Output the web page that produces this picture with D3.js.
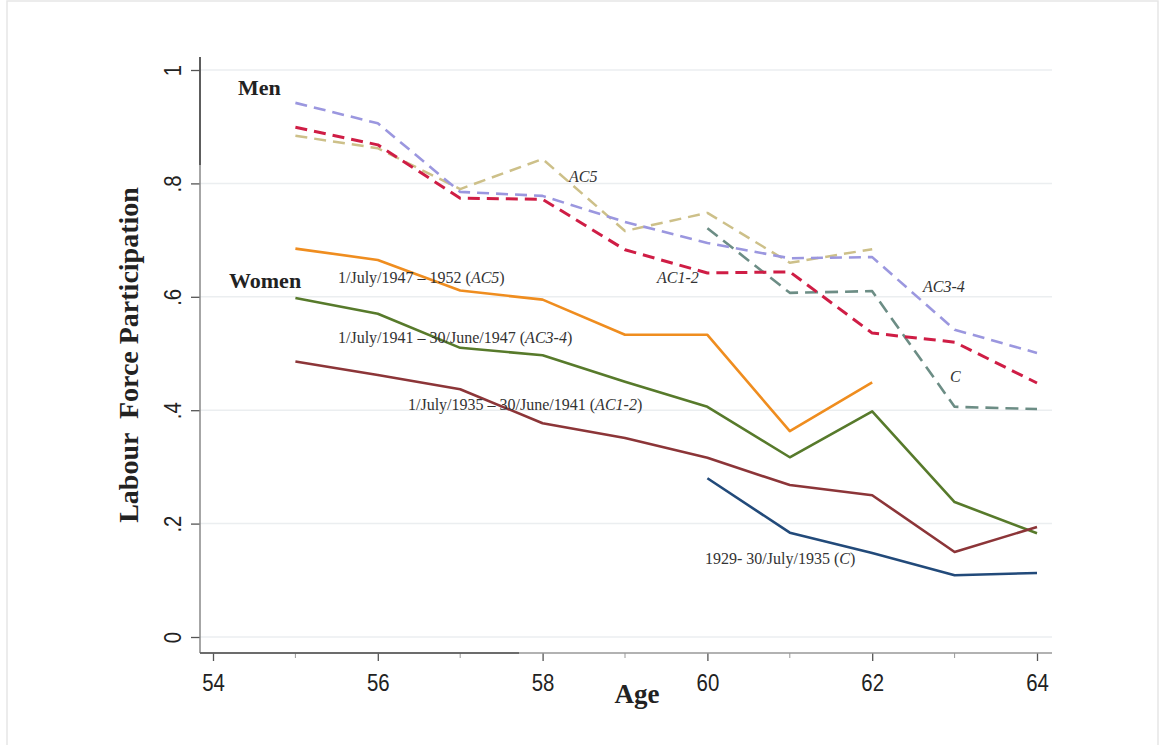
<!DOCTYPE html>
<html><head><meta charset="utf-8">
<script src="https://cdn.jsdelivr.net/npm/d3@7"></script>
<style>body{margin:0;background:#fff}svg{display:block}</style>
</head><body>
<svg id="c" width="1159" height="745"></svg>
<script>
const ages = [55,56,57,58,59,60,61,62,63,64];
const menAC34 = [0.942,0.906,0.785,0.778,0.732,0.695,0.668,0.670,0.542,0.501];
const menAC12 = [0.899,0.868,0.774,0.772,0.683,0.642,0.644,0.536,0.520,0.448];
const menAC5  = [0.884,0.862,0.790,0.843,0.716,0.748,0.660,0.684,null,null];
const menC    = [null,null,null,null,null,0.721,0.607,0.610,0.406,0.402];
const womAC5  = [0.685,0.665,0.611,0.595,0.533,0.533,0.363,0.449,null,null];
const womAC34 = [0.598,0.570,0.510,0.497,0.450,0.406,0.317,0.398,0.238,0.183];
const womAC12 = [0.486,0.462,0.437,0.377,0.351,0.316,0.268,0.250,0.150,0.194];
const womC    = [null,null,null,null,null,0.280,0.184,0.148,0.109,0.113];
const xTicks = [54,56,58,60,62,64];
const xMinor = [55,57,59,61,63];
const yTicks = [0,0.2,0.4,0.6,0.8,1];
const yTickLabels = ["0",".2",".4",".6",".8","1"];

const series = [
  {v: menAC5,  color:"#cdc089", dash:"12,7", w:2.5},
  {v: menC,    color:"#6c8d85", dash:"13,7", w:2.6},
  {v: menAC34, color:"#9b97df", dash:"12,7", w:2.6},
  {v: menAC12, color:"#cf1d45", dash:"12,7", w:3.0},
  {v: womAC5,  color:"#ef8d1f", dash:null, w:2.6},
  {v: womAC34, color:"#577a2b", dash:null, w:2.6},
  {v: womAC12, color:"#8c3538", dash:null, w:2.6},
  {v: womC,    color:"#224a7a", dash:null, w:2.6}
];

const svg = d3.select("#c");
svg.append("rect").attr("x",7).attr("y",1).attr("width",1151).attr("height",760)
  .attr("fill","none").attr("stroke","#e6e6e6").attr("stroke-width",1.5);

const x = d3.scaleLinear().domain([54,64]).range([213,1037]);
const y = d3.scaleLinear().domain([0,1]).range([637,70]);
const axL = 200, axB = 653, axR = 1052, axT = 57;
const sans = "Liberation Sans, Arial, sans-serif";
const serif = "Liberation Serif, Times New Roman, serif";

svg.append("g").selectAll("line").data(yTicks).join("line")
  .attr("x1",axL).attr("x2",axR).attr("y1",d=>y(d)).attr("y2",d=>y(d))
  .attr("stroke","#ebeef0").attr("stroke-width",1.5);

// Y axis
const yAxis = d3.axisLeft(y).tickValues(yTicks).tickSize(9).tickFormat((d,i)=>yTickLabels[i]);
const gy = svg.append("g").attr("transform",`translate(${axL},0)`).call(yAxis);
gy.select(".domain").remove();
gy.selectAll(".tick line").attr("stroke","#555").attr("stroke-width",1.3);
gy.selectAll(".tick text").attr("font-family",sans)
  .attr("font-size",24).attr("fill","#222")
  .attr("x",0).attr("y",0).attr("dy","0.36em").attr("text-anchor","middle")
  .attr("transform","translate(-28,0) rotate(-90) scale(0.85,1)");
svg.append("line").attr("x1",axL).attr("x2",axL).attr("y1",axT).attr("y2",axB)
  .attr("stroke","#888").attr("stroke-width",1.5);
svg.append("line").attr("x1",axL).attr("x2",axL).attr("y1",axT).attr("y2",165)
  .attr("stroke","#444").attr("stroke-width",1.5);

// X axis
const xAxis = d3.axisBottom(x).tickValues(xTicks).tickSize(8).tickFormat(d3.format("d"));
const gx = svg.append("g").attr("transform",`translate(0,${axB})`).call(xAxis);
gx.select(".domain").remove();
gx.selectAll(".tick line").attr("stroke","#555").attr("stroke-width",1.3);
gx.selectAll(".tick text").attr("font-family",sans)
  .attr("font-size",24).attr("fill","#222").attr("y",38).attr("dy",0)
  .attr("transform","scale(0.85,1)");
svg.append("g").selectAll("line").data(xMinor).join("line")
  .attr("x1",d=>x(d)).attr("x2",d=>x(d)).attr("y1",axB).attr("y2",axB+5)
  .attr("stroke","#999").attr("stroke-width",1);
svg.append("line").attr("x1",axL).attr("x2",axR).attr("y1",axB).attr("y2",axB)
  .attr("stroke","#999").attr("stroke-width",1.5);
svg.append("line").attr("x1",axL).attr("x2",519).attr("y1",axB).attr("y2",axB)
  .attr("stroke","#555").attr("stroke-width",1.5);

// lines
const line = d3.line().defined(d=>d.v!=null).x(d=>x(d.a)).y(d=>y(d.v));
svg.append("g").selectAll("path").data(series).join("path")
  .attr("d",s=>line(ages.map((a,i)=>({a:a,v:s.v[i]}))))
  .attr("fill","none").attr("stroke",s=>s.color).attr("stroke-width",s=>s.w)
  .attr("stroke-dasharray",s=>s.dash).attr("stroke-linejoin","round");

// axis titles
svg.append("text").attr("x",637).attr("y",703).attr("text-anchor","middle")
  .attr("font-family",serif).attr("font-weight","bold")
  .attr("font-size",27).attr("fill","#222").text("Age");
svg.append("text").attr("transform","translate(138,355) rotate(-90)").attr("text-anchor","middle")
  .attr("font-family",serif).attr("font-weight","bold")
  .attr("font-size",28).attr("fill","#222").attr("xml:space","preserve").text("Labour  Force Participation");

svg.append("text").attr("x",238).attr("y",95).attr("font-family",serif).attr("font-weight","bold")
  .attr("font-size",22).attr("fill","#222").text("Men");
svg.append("text").attr("x",229).attr("y",288).attr("font-family",serif).attr("font-weight","bold")
  .attr("font-size",22).attr("fill","#222").text("Women");

function cohortLabel(px,py,main,ital,close){
  const t = svg.append("text").attr("x",px).attr("y",py).attr("font-family",serif)
    .attr("font-size",16).attr("fill","#333");
  t.append("tspan").text(main);
  t.append("tspan").attr("font-style","italic").text(ital);
  t.append("tspan").text(close);
}
cohortLabel(338,283,"1/July/1947 – 1952 (","AC5",")");
cohortLabel(338,343,"1/July/1941 – 30/June/1947 (","AC3-4",")");
cohortLabel(408,410,"1/July/1935 – 30/June/1941 (","AC1-2",")");
cohortLabel(705,564,"1929- 30/July/1935 (","C",")");

function tag(px,py,txt){
  svg.append("text").attr("x",px).attr("y",py).attr("font-family",serif)
    .attr("font-style","italic").attr("font-size",16).attr("fill","#333").text(txt);
}
tag(569,182,"AC5");
tag(657,283,"AC1-2");
tag(923,292,"AC3-4");
tag(950,382,"C");
</script>
</body></html>
